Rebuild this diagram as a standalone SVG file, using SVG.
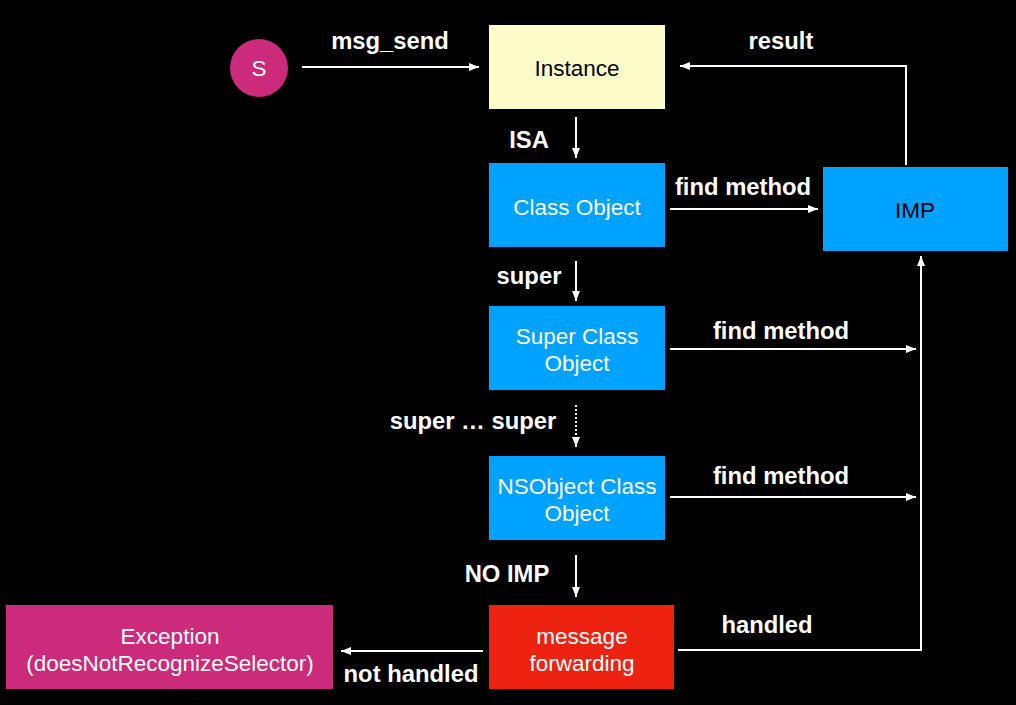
<svg xmlns="http://www.w3.org/2000/svg" width="1016" height="705" viewBox="0 0 1016 705">
<defs>
<marker id="ah" viewBox="0 0 10 10" refX="10" refY="5" markerWidth="10" markerHeight="10" markerUnits="userSpaceOnUse" orient="auto">
<path d="M0,1 L10,5 L0,9 Z" fill="#fff"/>
</marker>
<style>
.lbl{font-family:"Liberation Sans",Arial,sans-serif;font-weight:bold;font-size:23.8px;fill:#fff;text-anchor:middle;dominant-baseline:central}
.nt{font-family:"Liberation Sans",Arial,sans-serif;font-size:22.5px;fill:#fff;text-anchor:middle;dominant-baseline:central}
.dk{fill:#000}
.con{stroke:#fff;stroke-width:2;fill:none}
.blue{fill:#00a2ff}
</style>
</defs>
<rect width="1016" height="705" fill="#000"/>
<g id="connectors">
<line class="con" x1="302" y1="67" x2="479" y2="67" marker-end="url(#ah)"/>
<line class="con" x1="576" y1="117" x2="576" y2="158" marker-end="url(#ah)"/>
<line class="con" x1="670" y1="209" x2="818" y2="209" marker-end="url(#ah)"/>
<polyline class="con" points="906,165 906,66 680,66" marker-end="url(#ah)"/>
<line class="con" x1="576" y1="261" x2="576" y2="301" marker-end="url(#ah)"/>
<line class="con" x1="670" y1="349" x2="916" y2="349" marker-end="url(#ah)"/>
<line class="con" x1="576" y1="405" x2="576" y2="447" stroke-dasharray="2,2" marker-end="url(#ah)"/>
<line class="con" x1="670" y1="497" x2="916" y2="497" marker-end="url(#ah)"/>
<line class="con" x1="576" y1="555" x2="576" y2="597" marker-end="url(#ah)"/>
<polyline class="con" points="678,650 921,650 921,256" marker-end="url(#ah)"/>
<line class="con" x1="483" y1="651" x2="341" y2="651" marker-end="url(#ah)"/>
<text class="lbl" x="390" y="40">msg_send</text>
<text class="lbl" x="781" y="40">result</text>
<text class="lbl" x="529" y="139">ISA</text>
<text class="lbl" x="743" y="186">find method</text>
<text class="lbl" x="529" y="275">super</text>
<text class="lbl" x="781" y="330">find method</text>
<text class="lbl" x="473" y="420">super … super</text>
<text class="lbl" x="781" y="475">find method</text>
<text class="lbl" x="507" y="573">NO IMP</text>
<text class="lbl" x="767" y="624">handled</text>
<text class="lbl" x="411" y="673">not handled</text>
</g>
<g id="s">
<circle cx="259" cy="68" r="29" fill="#cc2a7a"/>
<text class="nt" x="259" y="68">S</text>
</g>
<g id="instance">
<rect x="489" y="25" width="176" height="84" fill="#fdfdca"/>
<text class="nt dk" x="577" y="68">Instance</text>
</g>
<g id="class-object">
<rect class="blue" x="489" y="163" width="176" height="84"/>
<text class="nt" x="577" y="207">Class Object</text>
</g>
<g id="imp">
<rect class="blue" x="823" y="167" width="185" height="84"/>
<text class="nt dk" x="915" y="210">IMP</text>
</g>
<g id="super-class-object">
<rect class="blue" x="489" y="306" width="176" height="84"/>
<text class="nt" x="577" y="336">Super Class</text>
<text class="nt" x="577" y="363">Object</text>
</g>
<g id="nsobject-class-object">
<rect class="blue" x="489" y="456" width="176" height="84"/>
<text class="nt" x="577" y="486">NSObject Class</text>
<text class="nt" x="577" y="513">Object</text>
</g>
<g id="message-forwarding">
<rect x="489" y="605" width="185" height="84" fill="#ee2211"/>
<text class="nt" x="582" y="636">message</text>
<text class="nt" x="582" y="663">forwarding</text>
</g>
<g id="exception">
<rect x="6" y="605" width="327" height="84" fill="#cc2a7a"/>
<text class="nt" x="170" y="636">Exception</text>
<text class="nt" x="170" y="663">(doesNotRecognizeSelector)</text>
</g>
</svg>
